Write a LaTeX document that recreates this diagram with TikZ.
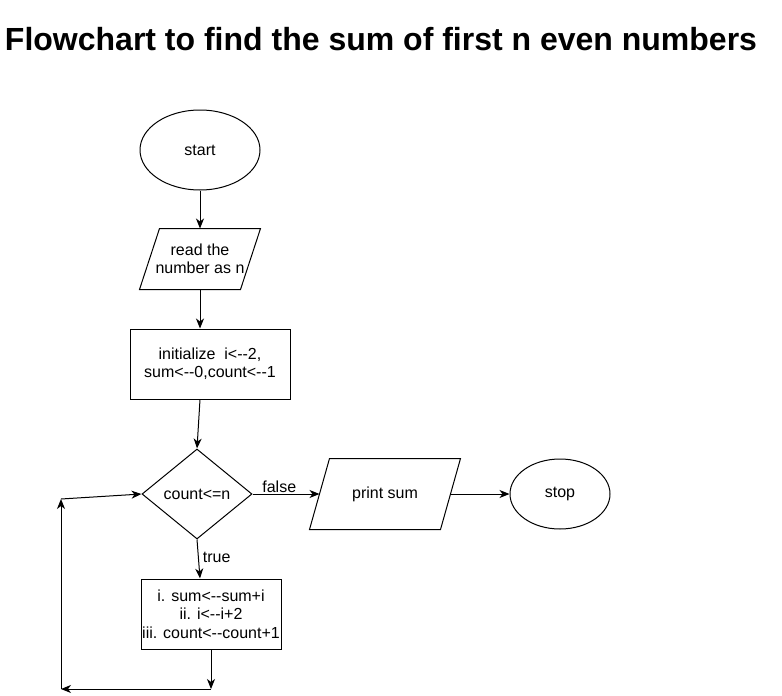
\documentclass[tikz,border=0pt]{standalone}
\usepackage{fontspec}
\setmainfont{Liberation Sans}
\usetikzlibrary{shapes.geometric,arrows.meta}
\tikzset{
  base/.style={draw=black, line width=1pt, inner sep=0pt, align=center,
    font=\fontsize{16}{18.3}\selectfont},
  term/.style={base, ellipse},
  proc/.style={base, rectangle},
  decis/.style={base, diamond},
  io/.style={base, rectangle, draw=none},
  outline/.style={draw=black, line width=1pt, line join=miter},
  conn/.style={line width=1pt, -{Stealth[length=10pt,width=8pt,inset=3pt]}},
  lbl/.style={font=\fontsize{16}{18}\selectfont, inner sep=1pt},
}
\begin{document}
\begin{tikzpicture}[x=1pt,y=-1pt]
\useasboundingbox (0,0) rectangle (782,696);
\node[font=\bfseries\fontsize{32}{36}\selectfont, anchor=base] (title) at (381,50) {Flowchart to find the sum of first n even numbers};
\node[term, minimum width=120, minimum height=80] (start) at (200,150) {start};
\node[io, minimum width=120, minimum height=60] (read) at (200,259) {read the\\number as n};
\draw[outline] ([xshift=20pt]read.north west) -- (read.north east) -- ([xshift=-20pt]read.south east) -- (read.south west) -- cycle;
\node[proc, minimum width=160, minimum height=70] (init) at (210,364) {initialize\ \ i<-{}-2,\\sum<-{}-0,count<-{}-1};
\node[decis, minimum width=110, minimum height=90] (dia) at (197,494) {count<=n};
\node[io, minimum width=150, minimum height=70] (print) at (385,494) {print sum};
\draw[outline] ([xshift=20pt]print.north west) -- (print.north east) -- ([xshift=-20pt]print.south east) -- (print.south west) -- cycle;
\node[term, minimum width=100, minimum height=70] (stop) at (560,494) {stop};
\node[proc, minimum width=140, minimum height=70] (body) at (211,614) {i. sum<-{}-sum+i\\ii. i<-{}-i+2\\iii. count<-{}-count+1};
\coordinate (c1) at (211,689);
\coordinate (c2) at (61,689);
\coordinate (c3) at (61,499);
\draw[conn] (start.south) -- (read.north);
\draw[conn] (read.south) -- (read.south |- init.north);
\draw[conn] ([xshift=-10pt]init.south) -- (dia.north);
\draw[conn] (dia.east) -- node[lbl, pos=0.4, above] {false} ([xshift=10pt]print.west);
\draw[conn] ([xshift=-10pt]print.east) -- (stop.west);
\draw[conn] (dia.south) -- node[lbl, pos=0.45, right=3pt] {true} ([xshift=-11pt]body.north);
\draw[conn] (body.south) -- (c1);
\draw[conn] (c1) -- (c2);
\draw[conn] (c2) -- (c3);
\draw[conn] (c3) -- (dia.west);
\end{tikzpicture}
\end{document}
